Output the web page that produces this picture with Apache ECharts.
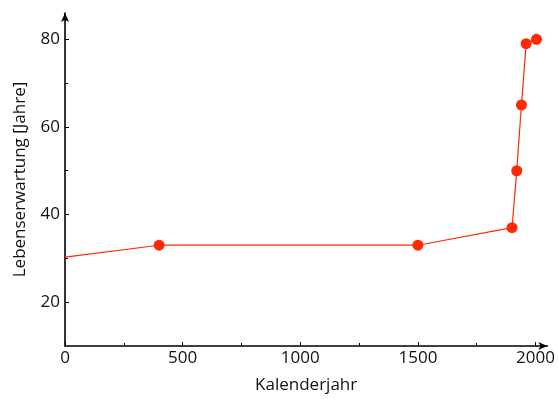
<!DOCTYPE html>
<html><head><meta charset="utf-8">
<script src="https://cdn.jsdelivr.net/npm/echarts@6/dist/echarts.min.js"></script>
<style>html,body{margin:0;padding:0;background:#fff}#c{width:558px;height:399px}</style>
</head><body><div id="c"></div>
<script>
const years = [0, 400, 1500, 1900, 1920, 1940, 1960, 2004];
const lifeExpectancy = [30.3, 33, 33, 37, 50, 65, 79, 80];
const markerShown = [false, true, true, true, true, true, true, true];
const xTickLabels = [0, 500, 1000, 1500, 2000];
const xMinorTicks = [250, 750, 1250, 1750];
const yTickLabels = [20, 40, 60, 80];
const yMinorTicks = [30, 50, 70];
const xTitle = 'Kalenderjahr';
const yTitle = 'Lebenserwartung [Jahre]';

const FONT = 'Open Sans';
const red = '#ff2a00';
const data = years.map((x, i) => markerShown[i] ? [x, lifeExpectancy[i]] : {value: [x, lifeExpectancy[i]], symbol: 'none'});
const plain = v => String(v);

const chart = echarts.init(document.getElementById('c'), null, {renderer: 'canvas'});
chart.setOption({
  animation: false,
  grid: {left: 65, right: 8, top: 13, bottom: 53, containLabel: false},
  xAxis: [{
    type: 'value', min: 0, max: 2050, interval: 500, position: 'bottom',
    name: xTitle, nameLocation: 'middle', nameGap: 31,
    nameTextStyle: {fontFamily: FONT, fontSize: 17, color: '#111'},
    axisLine: {show: true, symbol: ['none', 'arrow'], symbolSize: [6, 9], lineStyle: {color: '#000', width: 1.6}},
    axisTick: {show: true, inside: true, length: 4, customValues: xTickLabels, lineStyle: {color: '#000', width: 1}},
    axisLabel: {customValues: xTickLabels, formatter: plain, margin: 4, fontFamily: FONT, fontSize: 17, color: '#111'},
    splitLine: {show: false}
  }, {
    type: 'value', min: 0, max: 2050, interval: 500, position: 'bottom',
    axisLine: {show: false},
    axisTick: {show: true, inside: true, length: 3, customValues: xMinorTicks, lineStyle: {color: '#000', width: 1}},
    axisLabel: {show: false}, splitLine: {show: false}
  }],
  yAxis: [{
    type: 'value', min: 10, max: 86, interval: 10, position: 'left',
    name: yTitle, nameLocation: 'middle', nameGap: 36,
    nameTextStyle: {fontFamily: FONT, fontSize: 17, color: '#111'},
    axisLine: {show: true, symbol: ['none', 'arrow'], symbolSize: [6, 9], lineStyle: {color: '#000', width: 1.6}},
    axisTick: {show: true, inside: true, length: 4, customValues: yTickLabels, lineStyle: {color: '#000', width: 1}},
    axisLabel: {customValues: yTickLabels, formatter: plain, margin: 5, fontFamily: FONT, fontSize: 17, color: '#111'},
    splitLine: {show: false}
  }, {
    type: 'value', min: 10, max: 86, interval: 10, position: 'left',
    axisLine: {show: false},
    axisTick: {show: true, inside: true, length: 3, customValues: yMinorTicks, lineStyle: {color: '#000', width: 1}},
    axisLabel: {show: false}, splitLine: {show: false}
  }],
  series: [{
    type: 'line', xAxisIndex: 0, yAxisIndex: 0, data: data,
    symbol: 'circle', symbolSize: 11, showSymbol: true,
    lineStyle: {color: red, width: 1.2},
    itemStyle: {color: red},
    clip: false
  }]
});
</script></body></html>
